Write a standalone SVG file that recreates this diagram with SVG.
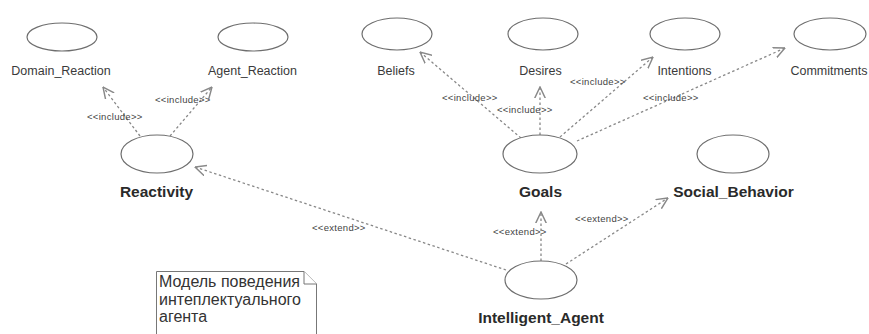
<svg xmlns="http://www.w3.org/2000/svg" width="869" height="334" viewBox="0 0 869 334">
<style>
.uc{fill:#fff;stroke:#6e6e6e;stroke-width:1.2}
.lbl{font-family:"Liberation Sans",Arial,sans-serif;font-size:12.5px;fill:#3a3a3a}
.blbl{font-family:"Liberation Sans",Arial,sans-serif;font-size:15.5px;font-weight:bold;fill:#2a2a2a}
.dep{stroke:#888;stroke-width:1.3;stroke-dasharray:2.5 2.5;fill:none;marker-end:url(#open)}
.st{font-family:"Liberation Sans",Arial,sans-serif;font-size:9.5px;letter-spacing:0.3px;fill:#444}
.note{fill:#fff;stroke:#777;stroke-width:1}
.nt{font-family:"Liberation Sans",Arial,sans-serif;font-size:16px;fill:#333}
</style>
<defs>
<marker id="open" markerUnits="userSpaceOnUse" markerWidth="12" markerHeight="12" viewBox="0 0 10 10" refX="9.5" refY="5" orient="auto">
<path d="M0,0.5 L9.5,5 L0,9.5" fill="none" stroke="#888" stroke-width="1.2"/>
</marker>
</defs>
<rect width="869" height="334" fill="#fff"/>
<g id="connectors">
<line class="dep" x1="140" y1="136" x2="103" y2="87"/>
<line class="dep" x1="170" y1="136" x2="212" y2="87"/>
<line class="dep" x1="521" y1="138" x2="420" y2="52"/>
<line class="dep" x1="540" y1="135" x2="540" y2="87"/>
<line class="dep" x1="560" y1="137" x2="653" y2="57"/>
<line class="dep" x1="577" y1="141" x2="785" y2="48"/>
<line class="dep" x1="506" y1="270" x2="195" y2="167"/>
<line class="dep" x1="541" y1="261" x2="541" y2="212"/>
<line class="dep" x1="566" y1="264" x2="668" y2="198"/>
<text class="st" x="87" y="120">&lt;&lt;include&gt;&gt;</text>
<text class="st" x="155" y="103">&lt;&lt;include&gt;&gt;</text>
<text class="st" x="442" y="101">&lt;&lt;include&gt;&gt;</text>
<text class="st" x="497" y="113">&lt;&lt;include&gt;&gt;</text>
<text class="st" x="570" y="85">&lt;&lt;include&gt;&gt;</text>
<text class="st" x="643" y="101">&lt;&lt;include&gt;&gt;</text>
<text class="st" x="312" y="231">&lt;&lt;extend&gt;&gt;</text>
<text class="st" x="493" y="235">&lt;&lt;extend&gt;&gt;</text>
<text class="st" x="575" y="222">&lt;&lt;extend&gt;&gt;</text>
</g>
<g id="domain_reaction"><ellipse class="uc" cx="62" cy="37" rx="35" ry="14"/><text class="lbl" x="61" y="75" text-anchor="middle">Domain_Reaction</text></g>
<g id="agent_reaction"><ellipse class="uc" cx="253" cy="37" rx="35" ry="14"/><text class="lbl" x="252.5" y="75" text-anchor="middle">Agent_Reaction</text></g>
<g id="beliefs"><ellipse class="uc" cx="397" cy="34" rx="35" ry="16"/><text class="lbl" x="396" y="75" text-anchor="middle">Beliefs</text></g>
<g id="desires"><ellipse class="uc" cx="543" cy="34" rx="35" ry="16"/><text class="lbl" x="540.5" y="75" text-anchor="middle">Desires</text></g>
<g id="intentions"><ellipse class="uc" cx="685" cy="34" rx="35" ry="16"/><text class="lbl" x="684.5" y="75" text-anchor="middle">Intentions</text></g>
<g id="commitments"><ellipse class="uc" cx="830" cy="34" rx="36" ry="16"/><text class="lbl" x="829" y="75" text-anchor="middle">Commitments</text></g>
<g id="reactivity"><ellipse class="uc" cx="157" cy="154" rx="36" ry="19"/><text class="blbl" x="156.5" y="197" text-anchor="middle">Reactivity</text></g>
<g id="goals"><ellipse class="uc" cx="540" cy="154" rx="37" ry="19"/><text class="blbl" x="540.5" y="197" text-anchor="middle">Goals</text></g>
<g id="social_behavior"><ellipse class="uc" cx="733" cy="154" rx="36" ry="19"/><text class="blbl" x="733.5" y="197" text-anchor="middle">Social_Behavior</text></g>
<g id="intelligent_agent"><ellipse class="uc" cx="541" cy="280" rx="36" ry="19"/><text class="blbl" x="541" y="323" text-anchor="middle">Intelligent_Agent</text></g>
<g id="note">
<path class="note" d="M156.5,271.5 H304 L316.5,284 V340 H156.5 Z"/>
<path class="note" d="M304,271.5 V284 H316.5" fill="none"/>
<text class="nt" x="159" y="287">Модель поведения</text>
<text class="nt" x="159" y="305">интеплектуального</text>
<text class="nt" x="159" y="322">агента</text>
</g>
</svg>
